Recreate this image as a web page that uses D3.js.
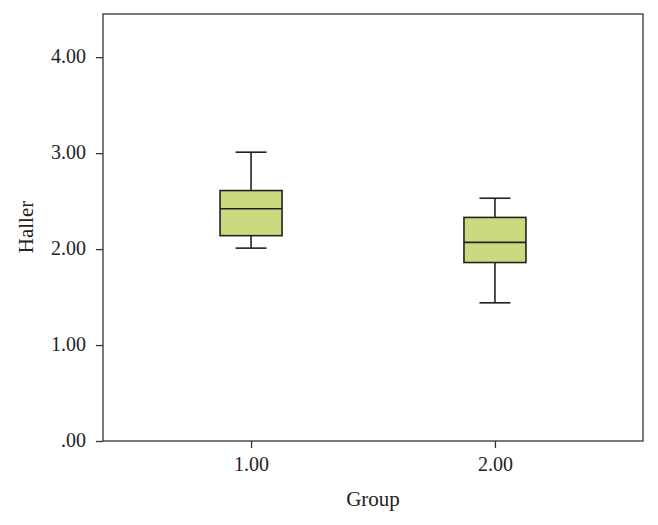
<!DOCTYPE html>
<html><head><meta charset="utf-8">
<script src="https://cdn.jsdelivr.net/npm/d3@7"></script>
<style>body{margin:0;background:#fff}svg{display:block}</style>
</head><body>
<svg id="c" width="658" height="525"></svg>
<script>
const groups = ["1.00", "2.00"];
const whiskerLow = [2.01, 1.44];
const q1 = [2.14, 1.86];
const median = [2.42, 2.07];
const q3 = [2.61, 2.33];
const whiskerHigh = [3.01, 2.53];
const yTicks = [0, 1, 2, 3, 4];
const yTickLabels = [".00", "1.00", "2.00", "3.00", "4.00"];

const svg = d3.select("#c");
const L = 103, R = 643, T = 14, B = 441;
const font = "'Liberation Serif', 'Times New Roman', serif";
const x = d3.scalePoint().domain(groups).range([L, R]).padding(0.607);
const y = d3.scaleLinear().domain([0, 4.45]).range([B, T]);

// frame
svg.append("rect").attr("x", L).attr("y", T).attr("width", R - L).attr("height", B - T)
  .attr("fill", "none").attr("stroke", "#333").attr("stroke-width", 1.3);

// y axis
const ya = svg.append("g").attr("transform", `translate(${L},0)`)
  .call(d3.axisLeft(y).tickValues(yTicks).tickFormat((d, i) => yTickLabels[i]).tickSize(7).tickPadding(10));
ya.select(".domain").remove();
ya.selectAll("line").attr("stroke", "#333").attr("stroke-width", 1.3);
ya.selectAll("text").attr("font-family", font).attr("font-size", 20).attr("fill", "#222").attr("dy", "0.25em");

// x axis
const xa = svg.append("g").attr("transform", `translate(0,${B})`)
  .call(d3.axisBottom(x).tickSize(7).tickPadding(9));
xa.select(".domain").remove();
xa.selectAll("line").attr("stroke", "#333").attr("stroke-width", 1.3);
xa.selectAll("text").attr("font-family", font).attr("font-size", 20).attr("fill", "#222");

// boxes
const bw = 62, cw = 31;
const g = svg.append("g").attr("stroke", "#222").attr("stroke-width", 1.6);
groups.forEach((gname, i) => {
  const cx = x(gname);
  g.append("line").attr("x1", cx).attr("x2", cx).attr("y1", y(whiskerHigh[i])).attr("y2", y(q3[i]));
  g.append("line").attr("x1", cx).attr("x2", cx).attr("y1", y(q1[i])).attr("y2", y(whiskerLow[i]));
  g.append("line").attr("x1", cx - cw / 2).attr("x2", cx + cw / 2).attr("y1", y(whiskerHigh[i])).attr("y2", y(whiskerHigh[i]));
  g.append("line").attr("x1", cx - cw / 2).attr("x2", cx + cw / 2).attr("y1", y(whiskerLow[i])).attr("y2", y(whiskerLow[i]));
  g.append("rect").attr("x", cx - bw / 2).attr("width", bw)
    .attr("y", y(q3[i])).attr("height", y(q1[i]) - y(q3[i])).attr("fill", "#c9da7f");
  g.append("line").attr("x1", cx - bw / 2).attr("x2", cx + bw / 2).attr("y1", y(median[i])).attr("y2", y(median[i]));
});

// axis titles
svg.append("text").attr("x", 373).attr("y", 506).attr("text-anchor", "middle")
  .attr("font-family", font).attr("font-size", 21).attr("fill", "#222").text("Group");
svg.append("text").attr("transform", `translate(33,227) rotate(-90)`).attr("text-anchor", "middle")
  .attr("font-family", font).attr("font-size", 21).attr("fill", "#222").text("Haller");
</script>
</body></html>
